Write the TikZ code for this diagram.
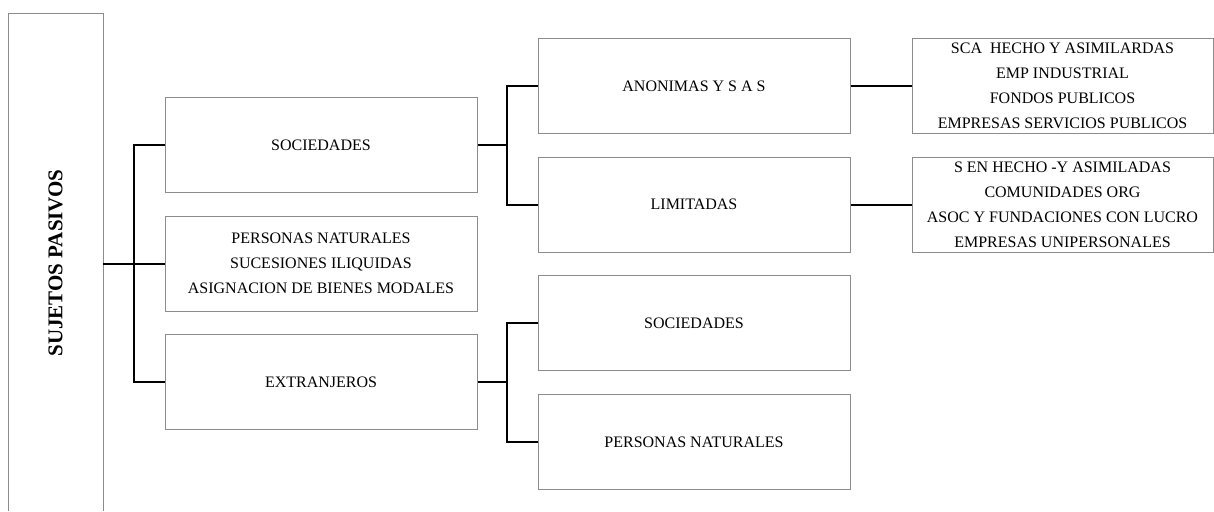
\documentclass[tikz,border=0pt]{standalone}
\usepackage{fontspec}
\setmainfont{Liberation Serif}
\usetikzlibrary{positioning}
\tikzset{
  caja/.style={draw=black!45, line width=1pt, align=center, inner sep=0pt,
    minimum width=312pt, minimum height=95pt, font=\fontsize{16}{25}\selectfont},
  caja3/.style={caja, minimum width=301pt},
  rama/.style={line width=2pt, black},
}

\begin{document}
\begin{tikzpicture}[x=1pt,y=-1pt]
  \useasboundingbox (0,0) rectangle (1214,511);

  \draw[draw=black!45, line width=1pt] (8,511) -- (8,14) -- (103,14) -- (103,511); %Left box, open at the bottom
  \node[rotate=90, font=\fontsize{21}{24}\selectfont\bfseries] (pasivos) at (55.5,263) {SUJETOS PASIVOS};
  \coordinate (pasivosE) at (103,263.5);

  \node[caja] (soc) at (321,145) {SOCIEDADES};
  \node[caja] (pn) at (321,263.5) {PERSONAS NATURALES\\SUCESIONES ILIQUIDAS\\ASIGNACION DE BIENES MODALES};
  \node[caja] (ext) at (321,382) {EXTRANJEROS};

  \node[caja] (anon) at (694,86) {ANONIMAS Y S A S};
  \node[caja] (lim) at (694,204.5) {LIMITADAS};
  \node[caja] (extsoc) at (694,323) {SOCIEDADES};
  \node[caja] (extpn) at (694,442) {PERSONAS NATURALES};

  \node[caja3] (sca) at (1062.5,86) {SCA\ \ HECHO Y ASIMILARDAS\\EMP INDUSTRIAL\\FONDOS PUBLICOS\\EMPRESAS SERVICIOS PUBLICOS};
  \node[caja3] (seh) at (1062.5,204.5) {S EN HECHO -Y ASIMILADAS\\COMUNIDADES ORG\\ASOC Y FUNDACIONES CON LUCRO\\EMPRESAS UNIPERSONALES};

  \draw[rama] (pasivosE) -- (pn.west);                 %First level
  \draw[rama] (soc.west) -- ++(-31,0) |- (ext.west);

  \draw[rama] (soc.east) -- ++(30,0);                  %Sociedades
  \draw[rama] (anon.west) -- ++(-31,0) |- (lim.west);

  \draw[rama] (ext.east) -- ++(30,0);                  %Extranjeros
  \draw[rama] (extsoc.west) -- ++(-31,0) |- (extpn.west);

  \draw[rama] (anon.east) -- (sca.west);               %Third level
  \draw[rama] (lim.east) -- (seh.west);
\end{tikzpicture}
\end{document}
